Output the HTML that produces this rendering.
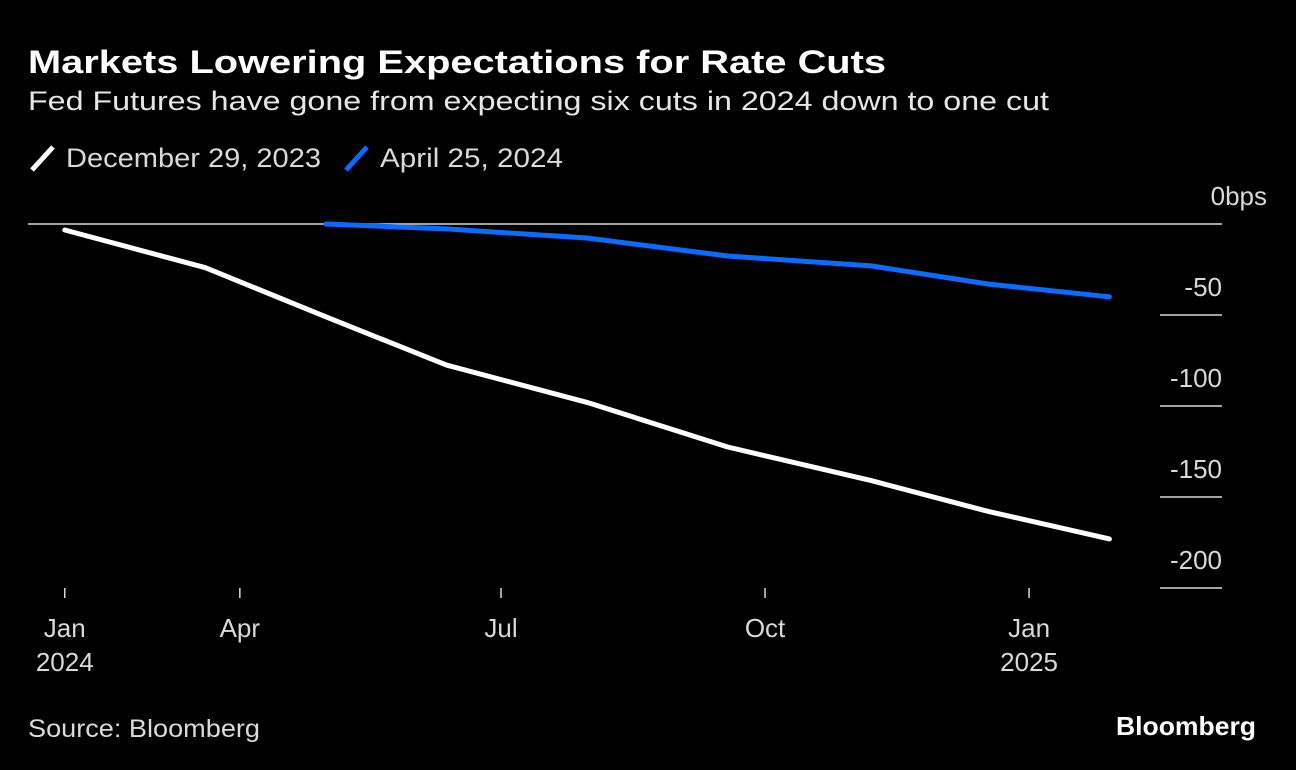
<!DOCTYPE html>
<html><head><meta charset="utf-8"><style>
html,body{margin:0;padding:0;background:#000;}
svg{display:block;font-family:"Liberation Sans",sans-serif;}
</style></head><body>
<svg id="chart" width="1296" height="770" viewBox="0 0 1296 770">
<rect width="1296" height="770" fill="#000"/>
<text x="28" y="73" fill="#fff" font-size="32" font-weight="bold" textLength="858" lengthAdjust="spacingAndGlyphs">Markets Lowering Expectations for Rate Cuts</text>
<text x="28" y="110" fill="#e6e6e6" font-size="27" textLength="1021" lengthAdjust="spacingAndGlyphs">Fed Futures have gone from expecting six cuts in 2024 down to one cut</text>
<g>
<g>
<line x1="32" y1="170" x2="53" y2="147" stroke="#fff" stroke-width="5"/>
<text x="66" y="167" fill="#d9d9d9" font-size="27" textLength="255" lengthAdjust="spacingAndGlyphs">December 29, 2023</text>
</g>
<g>
<line x1="346" y1="170" x2="367" y2="147" stroke="#0a6cff" stroke-width="5"/>
<text x="380" y="167" fill="#d9d9d9" font-size="27" textLength="183" lengthAdjust="spacingAndGlyphs">April 25, 2024</text>
</g>
</g>
<g id="axes"></g>
<g id="series"></g>
<text x="28" y="737" fill="#d9d9d9" font-size="25" textLength="232" lengthAdjust="spacingAndGlyphs">Source: Bloomberg</text>
<text x="1256" y="735" text-anchor="end" fill="#fff" font-size="26" font-weight="bold" textLength="140" lengthAdjust="spacingAndGlyphs">Bloomberg</text>
</svg>
<script>
const meetingDatesDec = ["2024-01-31","2024-03-20","2024-05-01","2024-06-12","2024-07-31","2024-09-18","2024-11-07","2024-12-18","2025-01-29"];
const valuesDec = [-3.3,-24,-51,-77.5,-98,-122.5,-141,-158,-173];
const meetingDatesApr = ["2024-05-01","2024-06-12","2024-07-31","2024-09-18","2024-11-07","2024-12-18","2025-01-29"];
const valuesApr = [0,-2.7,-7.7,-17.6,-23,-33,-40];
const yTicks = [0,-50,-100,-150,-200];
const yTickLabels = ["0bps","-50","-100","-150","-200"];
const xTickDates = ["2024-01-31","2024-04-01","2024-07-01","2024-10-01","2025-01-01"];
const xTickLabels1 = ["Jan","Apr","Jul","Oct","Jan"];
const xTickLabels2 = ["2024","","","","2025"];

const NS="http://www.w3.org/2000/svg";
const ref=Date.UTC(2024,6,1);
function days(s){const p=s.split("-");return (Date.UTC(+p[0],+p[1]-1,+p[2])-ref)/86400000;}
function xS(s){return 501+days(s)*2.87;}
function yS(v){return 224-v*1.82;}
function mk(tag,attrs,parent){const e=document.createElementNS(NS,tag);for(const k in attrs)e.setAttribute(k,attrs[k]);parent.appendChild(e);return e;}
const axes=document.getElementById("axes"), series=document.getElementById("series");

yTicks.forEach((v,i)=>{
  const y=yS(v);
  if(v===0){
    const l=mk("line",{x1:28,x2:1222,y1:y,y2:y,stroke:"#d9d9d9","stroke-width":1.5},axes);
    
    
  } else {
    const l=mk("line",{x1:1160,x2:1222,y1:y,y2:y,stroke:"#d9d9d9","stroke-width":1.5},axes);
    
    
  }
  const t=mk("text",{x:v===0?1267:1222,y:y-19,"text-anchor":"end",fill:"#d9d9d9","font-size":26},axes);
  t.textContent=yTickLabels[i];
  
  
});
xTickDates.forEach((d,i)=>{
  const x=xS(d);
  const tk=mk("line",{x1:x,x2:x,y1:588,y2:598,stroke:"#d9d9d9","stroke-width":1.5},axes);
  
  
  const t=mk("text",{x:x,y:637,"text-anchor":"middle",fill:"#d9d9d9","font-size":26},axes);
  t.textContent=xTickLabels1[i];
  
  
  if(xTickLabels2[i]){
    const t2=mk("text",{x:x,y:671,"text-anchor":"middle",fill:"#d9d9d9","font-size":26},axes);
    t2.textContent=xTickLabels2[i];
    
    
  }
});
function line(dates,vals,color,name){
  const pts=dates.map((d,i)=>xS(d).toFixed(1)+","+yS(vals[i]).toFixed(1)).join(" ");
  const p=mk("polyline",{points:pts,fill:"none",stroke:color,"stroke-width":5,"stroke-linecap":"round","stroke-linejoin":"round"},series);
  
  
}
line(meetingDatesDec,valuesDec,"#ffffff","line-dec-29-2023");
line(meetingDatesApr,valuesApr,"#0a6cff","line-apr-25-2024");
</script>
</body></html>
